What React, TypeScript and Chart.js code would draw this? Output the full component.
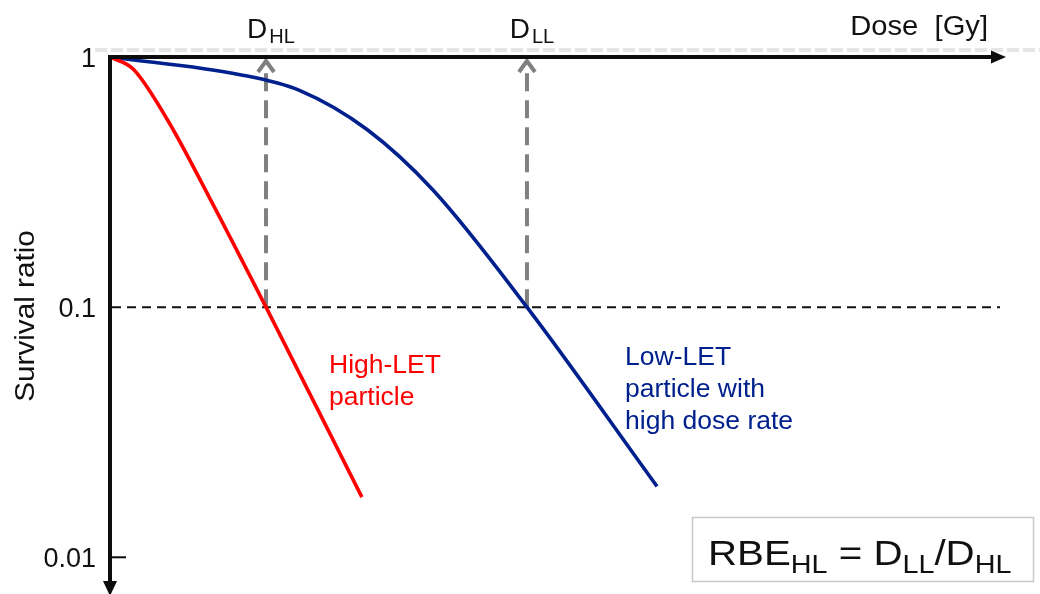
import React, { useEffect, useRef } from 'react';
import { Chart, registerables } from 'chart.js';

Chart.register(...registerables);

// ---- data ----
const highLetDose = [0, 0.26, 0.64, 1.12, 1.753, 2.83];
const highLetSurvival = [1, 0.895, 0.565, 0.273, 0.1, 0.0174];
const lowLetDose = [0, 1.461, 2.135, 2.888, 3.629, 4.685, 6.146];
const lowLetSurvival = [1, 0.85, 0.734, 0.513, 0.294, 0.1, 0.0192];
const yTickValues = [1, 0.1, 0.01];
const yTickLabels = ['1', '0.1', '0.01'];
const markerDoses = [1.753, 4.685];
const markerSubs = ['HL', 'LL'];
const referenceSurvival = 0.1;
const doseMax = 10;
const survivalMin = 0.0074;
const survivalMax = 1;

const RED = '#ff0000';
const BLUE = '#00208e';
const FONT = '"Liberation Sans", Arial, sans-serif';

function txt(ctx: CanvasRenderingContext2D, s: string, x: number, y: number, size: number, color: string, align: 'left' | 'right' | 'center' = 'left', sx = 1.1) {
  ctx.save();
  ctx.font = `${size}px ${FONT}`;
  ctx.fillStyle = color;
  ctx.textBaseline = 'alphabetic';
  ctx.textAlign = 'left';
  const w = ctx.measureText(s).width * sx;
  const x0 = align === 'left' ? x : align === 'right' ? x - w : x - w / 2;
  ctx.translate(x0, y);
  ctx.scale(sx, 1);
  ctx.fillText(s, 0, 0);
  ctx.restore();
  return w;
}

function measure(ctx: CanvasRenderingContext2D, s: string, size: number, sx = 1.1) {
  ctx.save();
  ctx.font = `${size}px ${FONT}`;
  const w = ctx.measureText(s).width * sx;
  ctx.restore();
  return w;
}

const overlay = {
  id: 'overlay',
  beforeDatasetsDraw(chart: any) {
    const { ctx, chartArea, scales } = chart;
    const x = scales.x;
    const y = scales.y;
    const top = y.getPixelForValue(survivalMax);
    ctx.save();
    // faint hollow dashed line just above the dose axis
    const ly = top - 7;
    ctx.setLineDash([12, 4]);
    ctx.lineWidth = 3;
    ctx.strokeStyle = '#cdcdcd';
    ctx.beginPath();
    ctx.moveTo(95, ly);
    ctx.lineTo(chart.width, ly);
    ctx.stroke();
    ctx.lineWidth = 1;
    ctx.strokeStyle = '#ffffff';
    ctx.stroke();

    // black dashed reference line at 0.1
    const ry = y.getPixelForValue(referenceSurvival);
    ctx.setLineDash([9, 6]);
    ctx.lineWidth = 2;
    ctx.strokeStyle = '#111111';
    ctx.beginPath();
    ctx.moveTo(chartArea.left + 2, ry);
    ctx.lineTo(x.getPixelForValue(doseMax), ry);
    ctx.stroke();

    // gray dashed arrows
    ctx.strokeStyle = '#808080';
    ctx.lineWidth = 4;
    markerDoses.forEach((d) => {
      const px = x.getPixelForValue(d);
      ctx.setLineDash([18, 9]);
      ctx.beginPath();
      ctx.moveTo(px, ry);
      ctx.lineTo(px, top + 5);
      ctx.stroke();
      ctx.setLineDash([]);
      ctx.beginPath();
      ctx.moveTo(px - 8, top + 15);
      ctx.lineTo(px, top + 4);
      ctx.lineTo(px + 8, top + 15);
      ctx.stroke();
    });
    ctx.restore();
  },
  afterDatasetsDraw(chart: any) {
    const { ctx, chartArea, scales } = chart;
    const x = scales.x;
    const y = scales.y;
    const left = x.getPixelForValue(0);
    const top = y.getPixelForValue(survivalMax);
    const right = x.getPixelForValue(doseMax);
    ctx.save();
    ctx.setLineDash([]);
    ctx.strokeStyle = '#0d0d0d';
    ctx.fillStyle = '#0d0d0d';
    ctx.lineWidth = 4;
    // dose axis (top)
    ctx.beginPath();
    ctx.moveTo(left - 2, top);
    ctx.lineTo(right - 4, top);
    ctx.stroke();
    ctx.beginPath();
    ctx.moveTo(right + 6, top);
    ctx.lineTo(right - 9, top - 6.5);
    ctx.lineTo(right - 9, top + 6.5);
    ctx.closePath();
    ctx.fill();
    // survival axis (left, pointing down)
    const bottom = chartArea.bottom;
    ctx.beginPath();
    ctx.moveTo(left, top - 2);
    ctx.lineTo(left, bottom - 6);
    ctx.stroke();
    ctx.beginPath();
    ctx.moveTo(left, bottom + 6);
    ctx.lineTo(left - 7, bottom - 9);
    ctx.lineTo(left + 7, bottom - 9);
    ctx.closePath();
    ctx.fill();
    // small tick at 0.01
    ctx.lineWidth = 2;
    const ty = y.getPixelForValue(yTickValues[2]);
    ctx.beginPath();
    ctx.moveTo(left, ty);
    ctx.lineTo(left + 16, ty);
    ctx.stroke();
    ctx.restore();

    // y tick labels
    yTickValues.forEach((v, i) => {
      const py = y.getPixelForValue(v);
      txt(ctx, yTickLabels[i], 96, py + 9.5, 27, '#111111', 'right', 1.0);
    });

    // axis titles
    txt(ctx, 'Dose  [Gy]', 988, 35, 27, '#111111', 'right', 1.08);
    ctx.save();
    ctx.translate(34, 316);
    ctx.rotate(-Math.PI / 2);
    ctx.font = `27px ${FONT}`;
    ctx.fillStyle = '#111111';
    ctx.textAlign = 'center';
    ctx.scale(1.1, 1);
    ctx.fillText('Survival ratio', 0, 0);
    ctx.restore();

    // D labels above arrows
    markerDoses.forEach((d, i) => {
      const px = x.getPixelForValue(d);
      const wD = measure(ctx, 'D', 28, 1.0);
      const wS = measure(ctx, markerSubs[i], 20, 1.0);
      const start = px + 5 - (wD + wS + 2) / 2;
      txt(ctx, 'D', start, 38, 28, '#111111', 'left', 1.0);
      txt(ctx, markerSubs[i], start + wD + 2, 43, 20, '#111111', 'left', 1.0);
    });

    // curve labels
    txt(ctx, 'High-LET', 329, 373, 26, RED, 'left', 1.02);
    txt(ctx, 'particle', 329, 405, 26, RED, 'left', 1.02);
    txt(ctx, 'Low-LET', 625, 365, 26, BLUE, 'left', 1.02);
    txt(ctx, 'particle with', 625, 397, 26, BLUE, 'left', 1.02);
    txt(ctx, 'high dose rate', 625, 429, 26, BLUE, 'left', 1.02);

    // RBE box
    ctx.save();
    ctx.strokeStyle = '#c8c8c8';
    ctx.lineWidth = 1.5;
    ctx.strokeRect(692.5, 517.5, 341, 64);
    ctx.restore();
    const big = 35;
    const small = 25;
    const sx = 1.15;
    let cx = 708;
    cx += txt(ctx, 'RBE', cx, 565, big, '#111111', 'left', sx);
    cx += txt(ctx, 'HL', cx, 573, small, '#111111', 'left', sx);
    cx += txt(ctx, ' = ', cx, 565, big, '#111111', 'left', sx);
    cx += txt(ctx, 'D', cx, 565, big, '#111111', 'left', sx);
    cx += txt(ctx, 'LL', cx, 573, small, '#111111', 'left', sx);
    cx += txt(ctx, '/', cx, 565, big, '#111111', 'left', sx);
    cx += txt(ctx, 'D', cx, 565, big, '#111111', 'left', sx);
    txt(ctx, 'HL', cx, 573, small, '#111111', 'left', sx);
  },
};

export default function App() {
  const ref = useRef<HTMLCanvasElement | null>(null);
  useEffect(() => {
    if (!ref.current) return;
    const chart = new Chart(ref.current, {
      type: 'line',
      data: {
        datasets: [
          {
            label: 'High-LET particle',
            data: highLetDose.map((d, i) => ({ x: d, y: highLetSurvival[i] })),
            borderColor: RED,
            borderWidth: 3.6,
            pointRadius: 0,
            cubicInterpolationMode: 'monotone',
            fill: false,
            clip: false as any,
          },
          {
            label: 'Low-LET particle with high dose rate',
            data: lowLetDose.map((d, i) => ({ x: d, y: lowLetSurvival[i] })),
            borderColor: BLUE,
            borderWidth: 3.6,
            pointRadius: 0,
            cubicInterpolationMode: 'monotone',
            fill: false,
            clip: false as any,
          },
        ],
      },
      options: {
        responsive: false,
        animation: false,
        layout: { padding: { left: 110, top: 57, right: 40, bottom: 4 } },
        plugins: { legend: { display: false }, tooltip: { enabled: false } },
        scales: {
          x: { type: 'linear', min: 0, max: doseMax, display: false },
          y: { type: 'logarithmic', min: survivalMin, max: survivalMax, display: false },
        },
      },
      plugins: [overlay],
    });
    return () => chart.destroy();
  }, []);
  return (
    <div style={{ position: 'absolute', left: 0, top: 0, width: 1040, height: 594, background: '#fff' }}>
      <canvas ref={ref} width={1040} height={594} />
    </div>
  );
}
